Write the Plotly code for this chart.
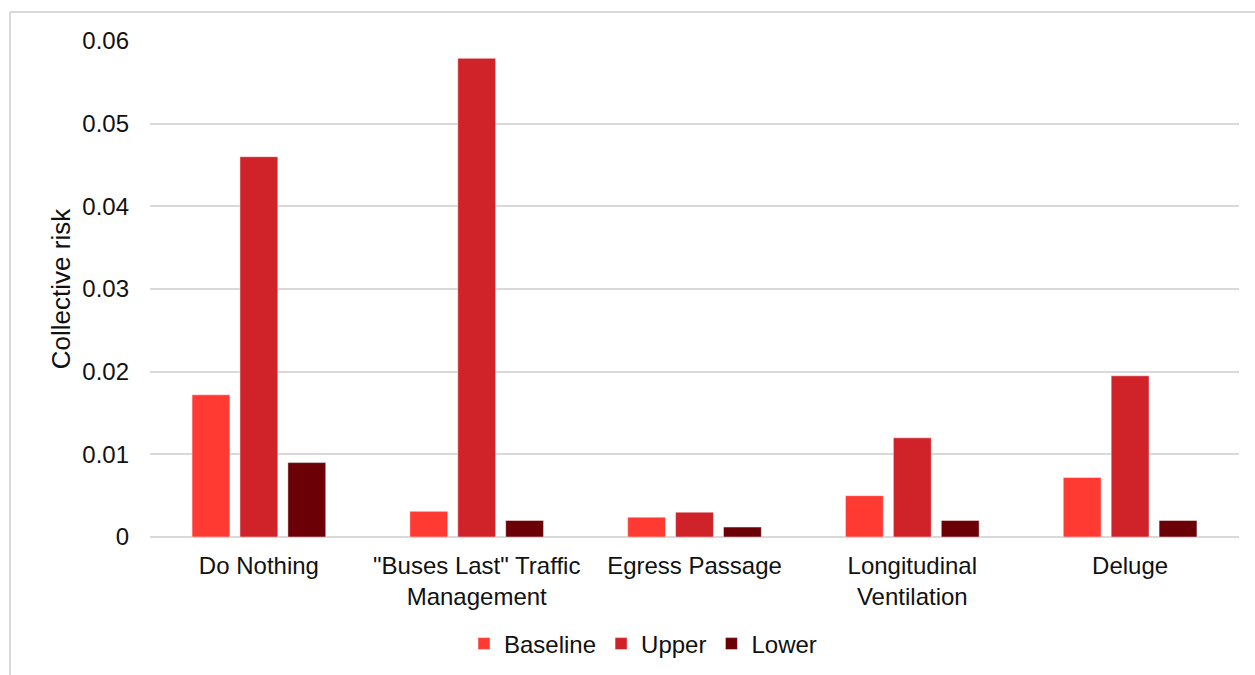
import plotly.graph_objects as go

categories = ["Do Nothing", "\"Buses Last\" Traffic<br>Management", "Egress Passage",
              "Longitudinal<br>Ventilation", "Deluge"]
baseline = [0.0172, 0.0031, 0.0024, 0.0050, 0.0072]
upper = [0.0460, 0.0579, 0.0030, 0.0120, 0.0195]
lower = [0.0090, 0.0020, 0.0012, 0.0020, 0.0020]
series_names = ["Baseline", "Upper", "Lower"]
colors = ["#FF3A33", "#CF2229", "#6B0006"]
y_ticks = [0, 0.01, 0.02, 0.03, 0.04, 0.05, 0.06]
y_tick_labels = ["0", "0.01", "0.02", "0.03", "0.04", "0.05", "0.06"]

FONT = "Liberation Sans, Arial, sans-serif"
TXT = "#111111"

fig = go.Figure()
for name, vals, col in zip(series_names, [baseline, upper, lower], colors):
    fig.add_trace(go.Bar(
        x=categories, y=vals, name=name,
        marker=dict(color=col, line=dict(color="rgba(255,255,255,0.45)", width=1)),
    ))

W, H = 1255, 675
L, R, T, B = 150, 16, 41, 138
pw, ph = W - L - R, H - T - B

def px_x(p):
    return (p - L) / pw

def px_y(p):
    return (H - B - p) / ph

frame = dict(color="#D9D9D9", width=2)
fig.add_shape(type="line", xref="paper", yref="paper",
              x0=px_x(10), x1=px_x(10), y0=px_y(12), y1=px_y(676), line=frame)
fig.add_shape(type="line", xref="paper", yref="paper",
              x0=px_x(10), x1=px_x(1256), y0=px_y(12), y1=px_y(12), line=frame)

fig.update_layout(
    width=W, height=H,
    margin=dict(l=L, r=R, t=T, b=B, pad=0, autoexpand=False),
    paper_bgcolor="white", plot_bgcolor="white",
    barmode="group", bargap=0.34, bargroupgap=0.21,
    font=dict(family=FONT, size=24, color=TXT),
    showlegend=True,
    legend=dict(orientation="h", x=px_x(643), xanchor="center", y=px_y(644), yanchor="middle",
                font=dict(family=FONT, size=24, color=TXT),
                itemwidth=30, tracegroupgap=0, bgcolor="rgba(0,0,0,0)"),
    xaxis=dict(showgrid=False, showline=False, zeroline=False, ticks="",
               tickfont=dict(family=FONT, size=24, color=TXT),
               ticklabelstandoff=12, fixedrange=True, automargin=False),
    yaxis=dict(range=[0, 0.06], tickvals=y_ticks, ticktext=y_tick_labels,
               showgrid=True, gridcolor="#D9D9D9", gridwidth=1.5,
               zeroline=True, zerolinecolor="#D9D9D9", zerolinewidth=1.5,
               showline=False, ticks="",
               tickfont=dict(family=FONT, size=24, color=TXT),
               ticklabelstandoff=20, automargin=False,
               title=dict(text="Collective risk", standoff=4,
                          font=dict(family=FONT, size=26, color=TXT)),
               fixedrange=True),
)

fig.write_html("out.html")
